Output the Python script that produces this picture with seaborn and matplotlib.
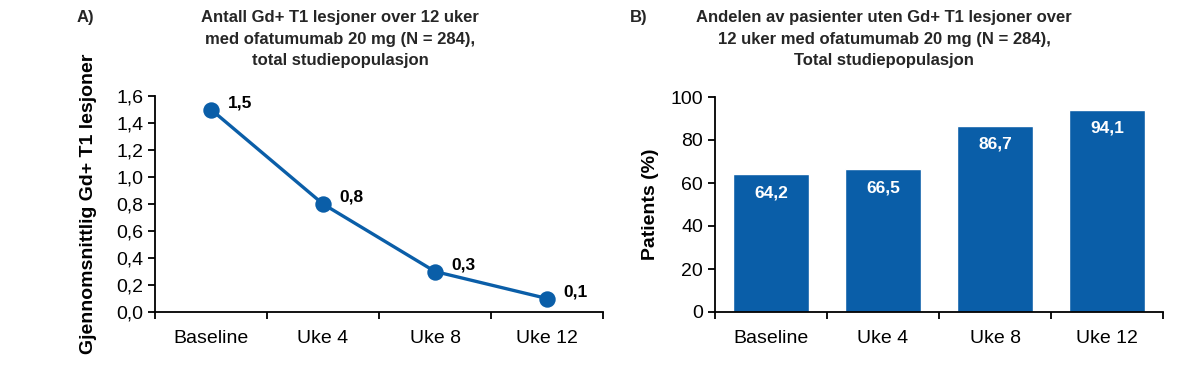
import matplotlib
matplotlib.use("Agg")
from matplotlib import pyplot as plt
from matplotlib.ticker import FuncFormatter, FixedLocator, NullFormatter
import seaborn as sns
import pandas as pd

# data
weeks = ["Baseline", "Uke 4", "Uke 8", "Uke 12"]
mean_lesions = [1.5, 0.8, 0.3, 0.1]
pct_free = [64.2, 66.5, 86.7, 94.1]

title_a = "Antall Gd+ T1 lesjoner over 12 uker\nmed ofatumumab 20 mg (N = 284),\ntotal studiepopulasjon"
title_b = "Andelen av pasienter uten Gd+ T1 lesjoner over\n12 uker med ofatumumab 20 mg (N = 284),\nTotal studiepopulasjon"
ylabel_a = "Gjennomsnittlig Gd+ T1 lesjoner"
ylabel_b = "Patients (%)"

blue = "#0A5EA8"

sns.set_theme(style="white")
plt.rcParams["font.family"] = ["Liberation Sans", "DejaVu Sans"]

fig = plt.figure(figsize=(12, 3.7), dpi=100)
ax1 = fig.add_axes([155 / 1200, 58 / 370, 448 / 1200, 216 / 370])
ax2 = fig.add_axes([715 / 1200, 58 / 370, 448 / 1200, 215 / 370])

df_a = pd.DataFrame({"week": weeks, "value": mean_lesions})
df_b = pd.DataFrame({"week": weeks, "value": pct_free})

# panel A - linje
sns.pointplot(data=df_a, x="week", y="value", color=blue, ax=ax1,
              markersize=10, linewidth=2.4, errorbar=None)
for i, v in enumerate(mean_lesions):
    ax1.annotate(f"{v:.1f}".replace(".", ","), (i, v), xytext=(12, 5),
                 textcoords="offset points", fontsize=12.5, fontweight="bold",
                 ha="left", va="center", color="black")
ax1.set_ylim(0, 1.6)
ax1.yaxis.set_major_locator(FixedLocator([0, 0.2, 0.4, 0.6, 0.8, 1.0, 1.2, 1.4, 1.6]))
ax1.yaxis.set_major_formatter(FuncFormatter(lambda v, p: f"{v:.1f}".replace(".", ",")))

# panel B - stolper
sns.barplot(data=df_b, x="week", y="value", color=blue, saturation=1, width=0.67, ax=ax2)
for i, v in enumerate(pct_free):
    ax2.annotate(f"{v:.1f}".replace(".", ","), (i, v), xytext=(0, -8),
                 textcoords="offset points", fontsize=12.5, fontweight="bold",
                 ha="center", va="top", color="white")
ax2.set_ylim(0, 100)
ax2.yaxis.set_major_locator(FixedLocator([0, 20, 40, 60, 80, 100]))

for ax, lab, lp in [(ax1, ylabel_a, 14), (ax2, ylabel_b, 8)]:
    ax.set_xlim(-0.5, 3.5)
    ax.set_xlabel("")
    ax.set_ylabel(lab, fontsize=14, fontweight="bold", color="black", labelpad=lp)
    for s in ["top", "right"]:
        ax.spines[s].set_visible(False)
    for s in ["left", "bottom"]:
        ax.spines[s].set_color("black")
        ax.spines[s].set_linewidth(1.3)
    ax.xaxis.set_minor_locator(FixedLocator([-0.5, 0.5, 1.5, 2.5, 3.5]))
    ax.xaxis.set_minor_formatter(NullFormatter())
    ax.tick_params(axis="x", which="major", length=0, labelsize=14, colors="black", pad=13)
    ax.tick_params(axis="x", which="minor", length=5, width=1.3, color="black", direction="out", bottom=True)
    ax.tick_params(axis="y", which="major", length=5, width=1.3, color="black", direction="out",
                   left=True, labelsize=14, labelcolor="black")

fig.text(340 / 1200, 1 - 10 / 370, title_a, ha="center", va="top", fontsize=12,
         fontweight="bold", linespacing=1.55)
fig.text(884 / 1200, 1 - 10 / 370, title_b, ha="center", va="top", fontsize=12,
         fontweight="bold", linespacing=1.55)
fig.text(77 / 1200, 1 - 10 / 370, "A)", ha="left", va="top", fontsize=12, fontweight="bold")
fig.text(630 / 1200, 1 - 10 / 370, "B)", ha="left", va="top", fontsize=12, fontweight="bold")

fig.savefig("out.png", dpi=100)
